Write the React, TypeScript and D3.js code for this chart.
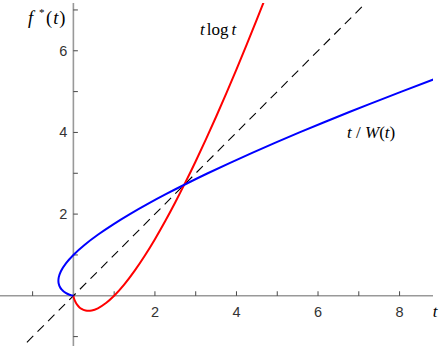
import React from "react";
import * as d3 from "d3";

// parameter samples s and the matching s·log s
const sVals = [0, 0.005, 0.01, 0.02, 0.05, 0.1, 0.15, 0.2, 0.3, 0.368, 0.45, 0.6, 0.8, 1.0, 1.25, 1.5, 1.75, 2.0, 2.25, 2.5, 2.75, 3.0, 3.25, 3.5, 3.75, 4.0, 4.25, 4.5, 4.7, 4.75, 5.0, 5.3, 5.35];
const sLogS = [0, -0.0265, -0.0461, -0.0782, -0.1498, -0.2303, -0.2846, -0.3219, -0.3612, -0.3679, -0.3593, -0.3065, -0.1785, 0, 0.2789, 0.6082, 0.9793, 1.3863, 1.8246, 2.2907, 2.782, 3.2958, 3.8306, 4.3847, 4.9566, 5.5452, 6.1493, 6.7683, 7.2737, 7.401, 8.0472, 8.8389, 8.9725];

const diagonal = [-1.4, 7.4];
const xTicks = [-1, 1, 2, 3, 4, 5, 6, 7, 8];
const yTicks = [-1, 1, 2, 3, 4, 5, 6, 7];
const xLabels = [2, 4, 6, 8];
const yLabels = [2, 4, 6];

const width = 440;
const height = 346;

const App = () => {
  const x = d3.scaleLinear().domain([-1.8, 8.82]).range([0, 433]);
  const y = d3.scaleLinear().domain([-1.23, 7.17]).range([346, 3]);

  const line = d3
    .line<[number, number]>()
    .x((d) => x(d[0]))
    .y((d) => y(d[1]))
    .curve(d3.curveMonotoneX);

  const lineY = d3
    .line<[number, number]>()
    .x((d) => x(d[0]))
    .y((d) => y(d[1]))
    .curve(d3.curveMonotoneY);

  // red: t log t, blue: t / W(t) (its mirror image)
  const red: [number, number][] = sVals.map((s, i) => [s, sLogS[i]]);
  const blue: [number, number][] = sVals.map((s, i) => [sLogS[i], s]);
  const diag: [number, number][] = diagonal.map((v) => [v, v]);

  const x0 = x(0);
  const y0 = y(0);

  return (
    <div style={{ position: "absolute", left: 0, top: 0 }}>
      <svg width={width} height={height} style={{ display: "block" }}>
        <defs>
          <clipPath id="plot">
            <rect x={0} y={3} width={433} height={343} />
          </clipPath>
        </defs>

        {/* axes */}
        <line x1={0} x2={433} y1={y0} y2={y0} stroke="#999" strokeWidth={1.6} />
        <line x1={x0} x2={x0} y1={3} y2={346} stroke="#999" strokeWidth={1.6} />

        {xTicks.map((t) => (
          <line key={"xt" + t} x1={x(t)} x2={x(t)} y1={y0} y2={y0 - 4.5} stroke="#333" strokeWidth={0.9} />
        ))}
        {yTicks.map((t) => (
          <line key={"yt" + t} x1={x0} x2={x0 + 4.5} y1={y(t)} y2={y(t)} stroke="#333" strokeWidth={0.9} />
        ))}

        <g fontFamily="Liberation Sans, Arial, sans-serif" fontSize={14.5} fill="#333">
          {xLabels.map((t) => (
            <text key={"xl" + t} x={x(t)} y={y0 + 21} textAnchor="middle">
              {t}
            </text>
          ))}
          {yLabels.map((t) => (
            <text key={"yl" + t} x={x0 - 6} y={y(t) + 5} textAnchor="end">
              {t}
            </text>
          ))}
        </g>

        <g clipPath="url(#plot)" fill="none">
          <path d={line(diag) || ""} stroke="#000" strokeWidth={1.1} strokeDasharray="9,6" />
          <path d={line(red) || ""} stroke="#f00" strokeWidth={2} />
          <path d={lineY(blue) || ""} stroke="#00f" strokeWidth={2} />
        </g>

        <g fontFamily="Liberation Serif, Times New Roman, serif" fill="#000">
          <text x={435} y={y0 + 21} fontSize={17} fontStyle="italic" textAnchor="middle">
            t
          </text>
          <text y={24} fontSize={18.5}>
            <tspan x={28} fontStyle="italic">f</tspan>
            <tspan x={39} y={16} fontSize={11}>*</tspan>
            <tspan x={46} y={24}>(</tspan>
            <tspan dx={1} fontStyle="italic">t</tspan>
            <tspan dx={1}>)</tspan>
          </text>
          <text x={200} y={35} fontSize={17}>
            <tspan fontStyle="italic">t</tspan>
            <tspan dx={2}>log</tspan>
            <tspan dx={3} fontStyle="italic">t</tspan>
          </text>
          <text x={347} y={138} fontSize={17}>
            <tspan fontStyle="italic">t</tspan>
            <tspan> / </tspan>
            <tspan fontStyle="italic">W</tspan>
            <tspan>(</tspan>
            <tspan fontStyle="italic">t</tspan>
            <tspan>)</tspan>
          </text>
        </g>
      </svg>
    </div>
  );
};

export default App;
